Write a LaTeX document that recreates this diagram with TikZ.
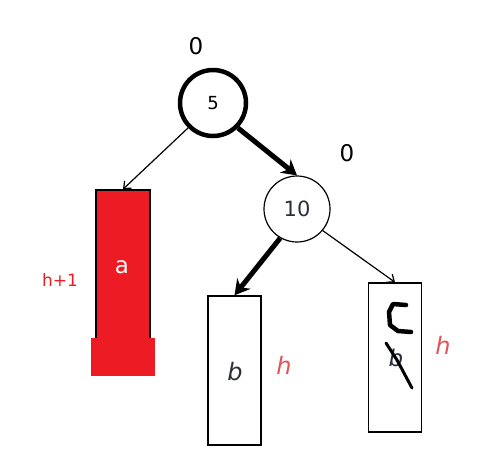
\documentclass[tikz,border=0pt]{standalone}
\usepackage{fontspec}
\setmainfont{DejaVu Sans}
\usetikzlibrary{arrows.meta}
\definecolor{fillred}{HTML}{ED1C24}
\definecolor{lblred}{HTML}{E05555}
\definecolor{txtdark}{HTML}{2A2F3A}
\begin{document}
\begin{tikzpicture}[x=1pt,y=-1pt,
  thinarrow/.style={draw=black,line width=1.2pt,-{Straight Barb[length=6pt,width=10pt]}},
  thickarrow/.style={draw=black,line width=5pt,-{Stealth[length=15pt,width=17pt]}},
  subtree/.style={draw=black,line width=1.5pt,minimum width=53pt,minimum height=149pt,inner sep=0pt},
  lbl/.style={font=\fontsize{23}{25}\selectfont}]
\useasboundingbox (0,0) rectangle (486,472);
% node 5
\node[circle,draw,line width=4.5pt,minimum size=66pt,inner sep=0pt,font=\fontsize{18}{20}\selectfont] (n5) at (213,103) {5};
\node[lbl] (z1) at (196,46) {0};
% node 10
\node[circle,draw,line width=1.2pt,minimum size=66pt,inner sep=0pt,text=txtdark,font=\fontsize{21}{23}\selectfont] (n10) at (297,209) {10};
\node[lbl] (z2) at (347,153) {0};
% subtree a
\node[subtree,fill=white,minimum width=54pt,minimum height=150pt] (ta) at (123,265) {};
\fill[fillred] ([shift={(2.2,2.2)}]ta.north west) rectangle ([shift={(-2.2,0)}]ta.south east);
\fill[fillred] (91,338) rectangle (155,376);
\node[text=white,font=\fontsize{23}{25}\selectfont] (la) at (122,267) {a};
\node[text=fillred,font=\fontsize{17}{19}\selectfont] (ha) at (60,280) {h+1};
% subtree b
\node[subtree] (tb) at (234.5,370.5) {};
\node[font=\fontsize{24}{26}\selectfont\itshape,text=txtdark] (lb) at (235,372) {b};
\node[text=lblred,font=\fontsize{24}{26}\selectfont\itshape] (hb) at (284,365) {h};
% subtree c
\node[subtree] (tc) at (395,357.5) {};
\node[font=\fontsize{23}{25}\selectfont\itshape,text=txtdark] (lc) at (396,358) {b};
\node[text=lblred,font=\fontsize{24}{26}\selectfont\itshape] (hc) at (443,345) {h};
% scribbled C
\draw[line width=4.5pt,line cap=round,line join=round] (406,305) -- (393,304) -- (389,312) -- (390,325) -- (398,331) -- (411,332);
\draw[line width=3pt,line cap=round] (386,343) -- (397,360) -- (412,388);
% connectors
\draw[thinarrow] (n5.225) -- (ta.north);
\draw[thickarrow] (n5.-45) -- (n10.north);
\draw[thickarrow] (n10.240) -- (tb.north);
\draw[thinarrow] (n10.-40) -- (tc.north);
\end{tikzpicture}
\end{document}
